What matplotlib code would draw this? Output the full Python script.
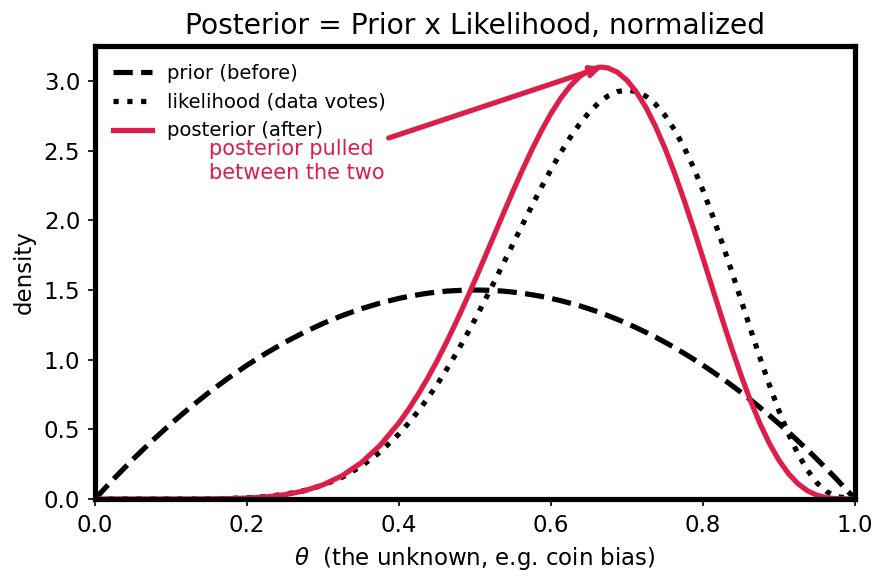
import matplotlib
matplotlib.use("Agg")
import matplotlib.pyplot as plt

# theta grid the curves were read at (finer where the curves bend)
theta = [0.0, 0.025, 0.05, 0.075, 0.1, 0.125, 0.15, 0.175, 0.2, 0.225,
         0.25, 0.275, 0.3, 0.325, 0.35, 0.375, 0.4,
         0.4125, 0.425, 0.4375, 0.45, 0.4625, 0.475, 0.4875, 0.5,
         0.5125, 0.525, 0.5375, 0.55, 0.5625, 0.575, 0.5875, 0.6,
         0.6125, 0.625, 0.6375, 0.65, 0.6625, 0.6667, 0.675, 0.6875, 0.7,
         0.7125, 0.725, 0.7375, 0.75, 0.7625, 0.775, 0.7875, 0.8,
         0.8125, 0.825, 0.8375, 0.85, 0.8625, 0.875, 0.8875, 0.9,
         0.9125, 0.925, 0.9375, 0.95, 0.9625, 0.975, 1.0]

prior = [0.0, 0.146, 0.285, 0.416, 0.54, 0.656, 0.765, 0.866, 0.96, 1.046,
         1.125, 1.196, 1.26, 1.316, 1.365, 1.406, 1.44,
         1.454, 1.466, 1.477, 1.485, 1.492, 1.496, 1.499, 1.5,
         1.499, 1.496, 1.492, 1.485, 1.477, 1.466, 1.454, 1.44,
         1.424, 1.406, 1.387, 1.365, 1.342, 1.333, 1.316, 1.289, 1.26,
         1.229, 1.196, 1.162, 1.125, 1.087, 1.046, 1.004, 0.96,
         0.914, 0.866, 0.817, 0.765, 0.712, 0.656, 0.599, 0.54,
         0.479, 0.416, 0.352, 0.285, 0.217, 0.146, 0.0]

likelihood = [0.0, 0.0, 0.0, 0.0, 0.0001, 0.0004, 0.0014, 0.0037, 0.0087, 0.0179,
              0.034, 0.0598, 0.099, 0.1555, 0.2332, 0.3361, 0.4671,
              0.544, 0.6285, 0.7208, 0.8206, 0.9279, 1.0421, 1.1627, 1.2891,
              1.4202, 1.5552, 1.6926, 1.8313, 1.9696, 2.1058, 2.2382, 2.3649,
              2.4839, 2.5932, 2.6907, 2.7744, 2.8424, 2.8614, 2.893, 2.9244, 2.9351,
              2.9241, 2.8903, 2.8333, 2.7531, 2.6499, 2.5249, 2.379, 2.2146,
              2.0339, 1.8402, 1.637, 1.4282, 1.2184, 1.0124, 0.8151, 0.6314,
              0.4658, 0.3227, 0.2051, 0.1152, 0.0533, 0.0173, 0.0]

posterior = [0.0, 0.0, 0.0, 0.0, 0.0, 0.0002, 0.0009, 0.0026, 0.0068, 0.0153,
             0.0311, 0.0582, 0.1014, 0.1663, 0.2587, 0.384, 0.5466,
             0.6426, 0.7488, 0.8647, 0.9901, 1.1245, 1.2669, 1.4162, 1.571,
             1.7298, 1.8906, 2.0512, 2.2096, 2.3629, 2.5087, 2.6442, 2.7669,
             2.874, 2.9629, 3.0313, 3.077, 3.0983, 3.0998, 3.0939, 3.0628, 3.0049,
             2.92, 2.8092, 2.674, 2.5165, 2.3394, 2.1464, 1.9408, 1.7274,
             1.5105, 1.2952, 1.086, 0.8877, 0.7044, 0.5398, 0.3967, 0.277,
             0.1813, 0.1091, 0.0586, 0.0267, 0.0094, 0.0021, 0.0]

crimson = "#dc1e4b"

fig = plt.figure(figsize=(887 / 150, 585 / 150), dpi=150)
ax = fig.add_axes([0.107, 0.147, 0.857, 0.774])

ax.plot(theta, prior, "k--", lw=2.5, label="prior (before)")
ax.plot(theta, likelihood, "k:", lw=2.5, label="likelihood (data votes)")
ax.plot(theta, posterior, color=crimson, lw=2.5, label="posterior (after)")

ax.annotate("posterior pulled\nbetween the two", xy=(0.667, 3.1), xytext=(0.15, 2.3),
            color=crimson, fontsize=10,
            arrowprops=dict(arrowstyle="->", color=crimson, lw=2.5,
                            shrinkA=0, shrinkB=0, relpos=(1.0, 1.0)))

ax.set_xlim(0, 1)
ax.set_ylim(0, 3.25)
ax.set_xlabel(r"$\theta$  (the unknown, e.g. coin bias)", fontsize=11)
ax.set_ylabel("density", fontsize=11)
ax.set_title("Posterior = Prior x Likelihood, normalized", fontsize=13.5)
ax.tick_params(labelsize=11)
for s in ax.spines.values():
    s.set_linewidth(2.5)
ax.legend(loc="upper left", frameon=False, fontsize=9.4)

fig.savefig("out.png", dpi=150)
